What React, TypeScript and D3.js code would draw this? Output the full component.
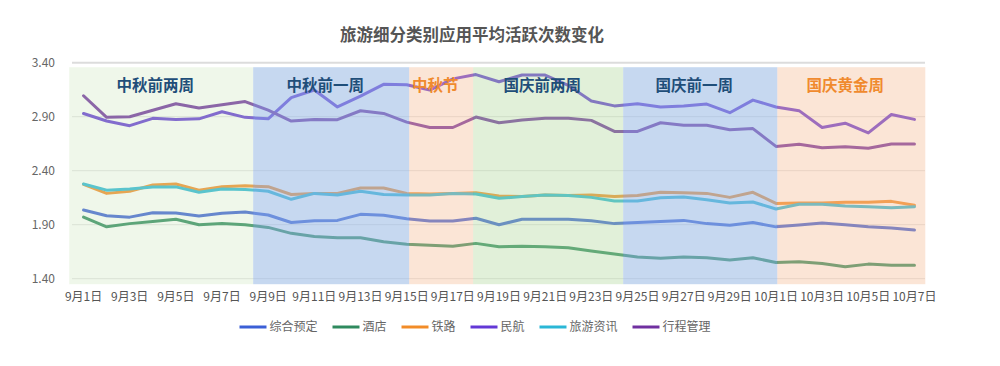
import React from "react";
import * as d3 from "d3";

const dates = [
  "9月1日", "9月2日", "9月3日", "9月4日", "9月5日", "9月6日", "9月7日", "9月8日", "9月9日", "9月10日",
  "9月11日", "9月12日", "9月13日", "9月14日", "9月15日", "9月16日", "9月17日", "9月18日", "9月19日", "9月20日",
  "9月21日", "9月22日", "9月23日", "9月24日", "9月25日", "9月26日", "9月27日", "9月28日", "9月29日", "9月30日",
  "10月1日", "10月2日", "10月3日", "10月4日", "10月5日", "10月6日", "10月7日",
];

const zongheYuding = [2.036, 1.983, 1.97, 2.01, 2.008, 1.98, 2.005, 2.017, 1.99, 1.92, 1.937, 1.94, 1.996, 1.987, 1.955, 1.934, 1.934, 1.96, 1.9, 1.95, 1.95, 1.95, 1.937, 1.91, 1.92, 1.93, 1.94, 1.91, 1.894, 1.92, 1.88, 1.897, 1.915, 1.9, 1.88, 1.87, 1.85];
const jiudian = [1.97, 1.88, 1.91, 1.93, 1.95, 1.9, 1.91, 1.9, 1.875, 1.82, 1.79, 1.78, 1.78, 1.743, 1.72, 1.71, 1.7, 1.727, 1.696, 1.7, 1.696, 1.687, 1.656, 1.628, 1.6, 1.59, 1.6, 1.594, 1.573, 1.594, 1.55, 1.557, 1.54, 1.51, 1.535, 1.524, 1.524];
const tielu = [2.273, 2.19, 2.21, 2.267, 2.277, 2.22, 2.252, 2.26, 2.252, 2.18, 2.19, 2.19, 2.24, 2.24, 2.19, 2.184, 2.19, 2.196, 2.165, 2.16, 2.175, 2.17, 2.175, 2.16, 2.17, 2.2, 2.196, 2.19, 2.153, 2.2, 2.097, 2.1, 2.1, 2.107, 2.107, 2.116, 2.08];
const minhang = [2.93, 2.86, 2.817, 2.885, 2.875, 2.88, 2.946, 2.894, 2.88, 3.076, 3.147, 2.99, 3.09, 3.2, 3.196, 3.147, 3.25, 3.29, 3.224, 3.286, 3.286, 3.19, 3.045, 3.0, 3.02, 2.99, 3.0, 3.017, 2.937, 3.054, 2.99, 2.956, 2.8, 2.84, 2.75, 2.92, 2.875];
const lvyouZixun = [2.277, 2.22, 2.23, 2.25, 2.25, 2.2, 2.23, 2.227, 2.21, 2.135, 2.19, 2.175, 2.21, 2.18, 2.175, 2.175, 2.19, 2.184, 2.144, 2.16, 2.175, 2.17, 2.153, 2.12, 2.12, 2.15, 2.156, 2.13, 2.1, 2.11, 2.045, 2.09, 2.09, 2.073, 2.067, 2.057, 2.067];
const xingchengGuanli = [3.094, 2.894, 2.9, 2.96, 3.02, 2.98, 3.01, 3.04, 2.96, 2.86, 2.875, 2.872, 2.955, 2.93, 2.85, 2.8, 2.8, 2.897, 2.844, 2.87, 2.885, 2.885, 2.866, 2.764, 2.764, 2.844, 2.82, 2.82, 2.78, 2.79, 2.625, 2.644, 2.613, 2.622, 2.607, 2.647, 2.647];

const seriesNames = ["综合预定", "酒店", "铁路", "民航", "旅游资讯", "行程管理"];
const seriesValues = [zongheYuding, jiudian, tielu, minhang, lvyouZixun, xingchengGuanli];
const seriesColors = ["#3b5fd6", "#2f8a5e", "#f28c28", "#6338d6", "#2ab7d6", "#7030a0"];

const yTicks = [1.4, 1.9, 2.4, 2.9, 3.4];

// holiday periods, boundaries in category units (0 = 9月1日)
const periodNames = ["中秋前两周", "中秋前一周", "中秋节", "国庆前两周", "国庆前一周", "国庆黄金周"];
const periodEdges = [-0.62, 7.35, 14.11, 16.88, 23.38, 30.06, 36.47];
const periodFills = ["#cae4b9", "#97b8e4", "#f5bd98", "#b4d9a0", "#97b8e4", "#f5bd98"];
const periodOpacity = [0.3, 0.55, 0.4, 0.4, 0.55, 0.4];
const periodTextColors = ["#1f4e79", "#1f4e79", "#f08a2e", "#1f4e79", "#1f4e79", "#f08a2e"];

const W = 1000;
const H = 366;
const font = "'Noto Sans CJK SC', 'Noto Sans', sans-serif";

export default function App() {
  const x = d3.scaleBand<string>().domain(dates).range([72, 926]).padding(0);
  const bw = x.bandwidth();
  const xi = d3
    .scaleLinear()
    .domain([0, dates.length - 1])
    .range([(x(dates[0]) ?? 0) + bw / 2, (x(dates[dates.length - 1]) ?? 0) + bw / 2]);
  const y = d3.scaleLinear().domain([1.4, 3.4]).range([278.7, 62.7]);

  const lineGen = d3
    .line<number>()
    .x((_, i) => xi(i))
    .y((d) => y(d));

  const bandTop = y(3.4) + 4.5;
  const bandBottom = y(1.4) + 5.5;

  // legend layout
  const legendItems: { name: string; color: string; x: number }[] = [];
  const widths = seriesNames.map((n) => 27 + 3 + n.length * 12);
  const totalW = d3.sum(widths) + 15 * (seriesNames.length - 1);
  let lx = 475 - totalW / 2;
  seriesNames.forEach((n, i) => {
    legendItems.push({ name: n, color: seriesColors[i], x: lx });
    lx += widths[i] + 15;
  });

  return (
    <svg
      width={W}
      height={H}
      style={{ position: "absolute", left: 0, top: 0, background: "#fff" }}
      fontFamily={font}
    >
      <text x={472} y={41} textAnchor="middle" fontSize={16.5} fontWeight="bold" fill="#555">
        旅游细分类别应用平均活跃次数变化
      </text>

      {/* grid */}
      {yTicks.map((t) => (
        <g key={t}>
          <line
            x1={72}
            x2={925}
            y1={y(t)}
            y2={y(t)}
            stroke={t === 3.4 ? "#dcdcdc" : "#e2e2e2"}
            strokeWidth={t === 3.4 ? 2 : 1}
          />
          <text x={55} y={y(t)} dy="0.35em" textAnchor="end" fontSize={12} fill="#666">
            {t.toFixed(2)}
          </text>
        </g>
      ))}

      {/* series */}
      {seriesValues.map((vals, i) => (
        <path
          key={seriesNames[i]}
          d={lineGen(vals) ?? ""}
          fill="none"
          stroke={seriesColors[i]}
          strokeWidth={3}
          strokeLinejoin="round"
          strokeLinecap="round"
        />
      ))}

      {/* period overlays */}
      {periodNames.map((p, i) => {
        const x0 = xi(periodEdges[i]);
        const x1 = xi(periodEdges[i + 1]);
        return (
          <g key={p}>
            <rect
              x={x0}
              y={bandTop}
              width={x1 - x0}
              height={bandBottom - bandTop}
              fill={periodFills[i]}
              fillOpacity={periodOpacity[i]}
            />
            <text
              x={(x0 + x1) / 2 - 6}
              y={86}
              dy="0.35em"
              textAnchor="middle"
              fontSize={15.5}
              fontWeight="bold"
              fill={periodTextColors[i]}
            >
              {p}
            </text>
          </g>
        );
      })}

      {/* x axis labels */}
      {dates.map((d, i) =>
        i % 2 === 0 ? (
          <text key={d} x={xi(i)} y={297} dy="0.35em" textAnchor="middle" fontSize={12} fill="#555">
            {d}
          </text>
        ) : null
      )}

      {/* legend */}
      {legendItems.map((it) => (
        <g key={it.name}>
          <line x1={it.x} x2={it.x + 27} y1={327} y2={327} stroke={it.color} strokeWidth={3} />
          <text x={it.x + 30} y={327} dy="0.35em" fontSize={12} fill="#666">
            {it.name}
          </text>
        </g>
      ))}
    </svg>
  );
}
